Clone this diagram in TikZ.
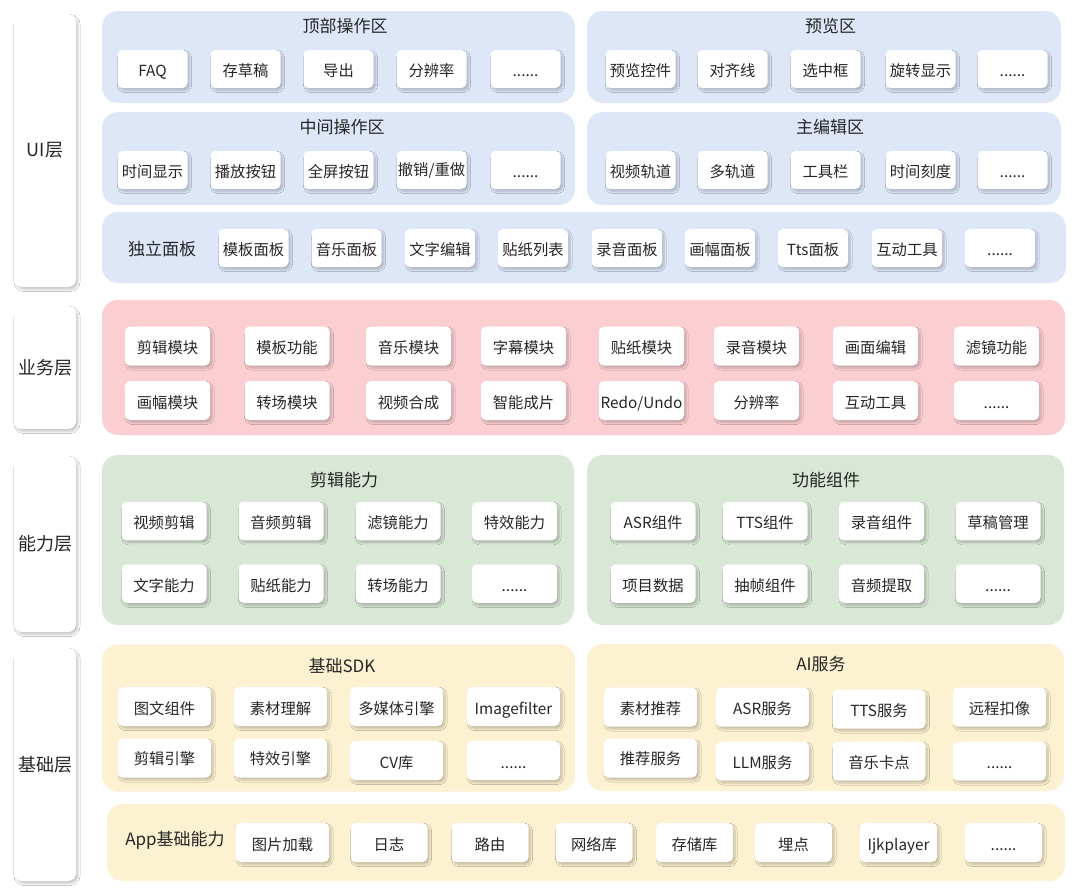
\documentclass[tikz,border=0pt]{standalone}
\usepackage{fontspec}
\setmainfont{Noto Sans CJK SC}
\usetikzlibrary{shadows.blur}
\definecolor{txt}{HTML}{262626}
\definecolor{uiblue}{HTML}{DDE7F8}
\definecolor{bizpink}{HTML}{FBCFD2}
\definecolor{capgreen}{HTML}{D9E8D6}
\definecolor{baseyel}{HTML}{FCF1D0}
\tikzset{
  shad/.style={blur shadow={shadow xshift=2pt, shadow yshift=-2.5pt, shadow blur radius=2pt, shadow blur steps=6, shadow opacity=22}},
  itembox/.style={shad, fill=white, draw=none, rounded corners=5pt, inner sep=0pt, text=txt, font=\fontsize{15.3}{17}\selectfont, text height=15pt, text depth=0pt},
  it/.style={itembox, minimum width=70pt, minimum height=38pt},
  bz/.style={itembox, minimum width=85pt, minimum height=39pt},
  cp/.style={itembox, minimum width=85pt, minimum height=38.5pt},
  sd/.style={itembox, minimum width=93pt, minimum height=39pt},
  ap/.style={itembox, minimum width=77pt, minimum height=39pt},
  layerbox/.style={shad, fill=white, draw=none, rounded corners=8pt, inner sep=0pt, minimum width=62pt, text=txt, font=\fontsize{18}{20}\selectfont},
  panel/.style={draw=none, rounded corners=16pt, inner sep=0pt},
  ptitle/.style={text=txt, inner sep=0pt, font=\fontsize{17}{19}\selectfont},
}
\begin{document}
\begin{tikzpicture}[x=1pt,y=-1pt]
\useasboundingbox[fill=white] (0,0) rectangle (1080,892);

% ---------- layer labels
\node[layerbox, minimum height=273pt] (lui) at (45,150.5) {UI层};
\node[layerbox, minimum height=123pt] (lbiz) at (45,367.5) {业务层};
\node[layerbox, minimum height=176pt] (lcap) at (45,544) {能力层};
\node[layerbox, minimum height=233pt] (lbase) at (45,764.5) {基础层};

% ---------- UI layer panels
\node[panel, fill=uiblue, minimum width=473pt, minimum height=92pt] (ptop) at (338.5,57) {};
\node[panel, fill=uiblue, minimum width=474pt, minimum height=92pt] (pprev) at (824,57) {};
\node[panel, fill=uiblue, minimum width=473pt, minimum height=93pt] (pmid) at (338.5,158.5) {};
\node[panel, fill=uiblue, minimum width=474pt, minimum height=93pt] (pmain) at (824,158.5) {};
\node[panel, fill=uiblue, minimum width=964pt, minimum height=71pt] (pind) at (584,247.5) {};

\node[ptitle] (ttop) at (345,26) {顶部操作区};
\node[ptitle] (tprev) at (830.5,26) {预览区};
\node[ptitle] (tmid) at (342,127) {中间操作区};
\node[ptitle] (tmain) at (830,127) {主编辑区};
\node[ptitle] (tind) at (162,249) {独立面板};

\node[it] (u11) at (152.5,69) {FAQ};
\node[it] (u12) at (245.5,69) {存草稿};
\node[it] (u13) at (338.5,69) {导出};
\node[it] (u14) at (431.5,69) {分辨率};
\node[it] (u15) at (525.5,69) {......};
\node[it] (u16) at (640.5,69) {预览控件};
\node[it] (u17) at (732.5,69) {对齐线};
\node[it] (u18) at (825.5,69) {选中框};
\node[it] (u19) at (920.5,69) {旋转显示};
\node[it] (u110) at (1012.5,69) {......};

\node[it] (u21) at (152.5,170) {时间显示};
\node[it] (u22) at (245.5,170) {播放按钮};
\node[it] (u23) at (338.5,170) {全屏按钮};
\node[it, text height=11pt] (u24) at (431.5,170) {撤销/重做};
\node[it] (u25) at (525.5,170) {......};
\node[it] (u26) at (640.5,170) {视频轨道};
\node[it] (u27) at (732.5,170) {多轨道};
\node[it] (u28) at (825.5,170) {工具栏};
\node[it] (u29) at (920.5,170) {时间刻度};
\node[it] (u210) at (1012.5,170) {......};

\node[it] (u31) at (253.5,248) {模板面板};
\node[it] (u32) at (346.5,248) {音乐面板};
\node[it] (u33) at (440,248) {文字编辑};
\node[it] (u34) at (533,248) {贴纸列表};
\node[it] (u35) at (627,248) {录音面板};
\node[it] (u36) at (720,248) {画幅面板};
\node[it] (u37) at (813,248) {Tts面板};
\node[it] (u38) at (907,248) {互动工具};
\node[it] (u39) at (1000,248) {......};

% ---------- business layer
\node[panel, fill=bizpink, minimum width=963pt, minimum height=135pt] (pbiz) at (583.5,367.5) {};
\node[bz] (b11) at (167.5,346) {剪辑模块};
\node[bz] (b12) at (287,346) {模板功能};
\node[bz] (b13) at (408.5,346) {音乐模块};
\node[bz] (b14) at (523.5,346) {字幕模块};
\node[bz] (b15) at (641.5,346) {贴纸模块};
\node[bz] (b16) at (756.5,346) {录音模块};
\node[bz] (b17) at (875.5,346) {画面编辑};
\node[bz] (b18) at (996.5,346) {滤镜功能};
\node[bz] (b21) at (167.5,400.5) {画幅模块};
\node[bz] (b22) at (287,400.5) {转场模块};
\node[bz] (b23) at (408.5,400.5) {视频合成};
\node[bz] (b24) at (523.5,400.5) {智能成片};
\node[bz] (b25) at (641.5,400.5) {Redo/Undo};
\node[bz] (b26) at (756.5,400.5) {分辨率};
\node[bz] (b27) at (875.5,400.5) {互动工具};
\node[bz] (b28) at (996.5,400.5) {......};

% ---------- capability layer
\node[panel, fill=capgreen, minimum width=472pt, minimum height=170pt] (pedit) at (338,540) {};
\node[panel, fill=capgreen, minimum width=477pt, minimum height=170pt] (pfunc) at (825.5,540) {};
\node[ptitle] (tedit) at (344,480) {剪辑能力};
\node[ptitle] (tfunc) at (826,480) {功能组件};

\node[cp] (c11) at (164,521) {视频剪辑};
\node[cp] (c12) at (281,521) {音频剪辑};
\node[cp] (c13) at (398,521) {滤镜能力};
\node[cp] (c14) at (514.5,521) {特效能力};
\node[cp] (c21) at (164,583.5) {文字能力};
\node[cp] (c22) at (281,583.5) {贴纸能力};
\node[cp] (c23) at (398,583.5) {转场能力};
\node[cp] (c24) at (514.5,583.5) {......};

\node[cp] (f11) at (653,521) {ASR组件};
\node[cp] (f12) at (765,521) {TTS组件};
\node[cp] (f13) at (881.5,521) {录音组件};
\node[cp] (f14) at (998,521) {草稿管理};
\node[cp] (f21) at (653,583.5) {项目数据};
\node[cp] (f22) at (765,583.5) {抽帧组件};
\node[cp] (f23) at (881.5,583.5) {音频提取};
\node[cp] (f24) at (998,583.5) {......};

% ---------- base layer
\node[panel, fill=baseyel, minimum width=473pt, minimum height=147pt] (psdk) at (338.5,718) {};
\node[panel, fill=baseyel, minimum width=477pt, minimum height=147pt] (pai) at (825.5,717.5) {};
\node[panel, fill=baseyel, minimum width=958pt, minimum height=77pt] (papp) at (586,842.5) {};
\node[ptitle] (tsdk) at (342,666) {基础SDK};
\node[ptitle] (tai) at (821,664) {AI服务};
\node[ptitle] (tapp) at (175,840) {App基础能力};

\node[sd] (s11) at (164.5,706.5) {图文组件};
\node[sd] (s12) at (280.5,706.5) {素材理解};
\node[sd] (s13) at (396.5,706.5) {多媒体引擎};
\node[sd] (s14) at (513.5,706.5) {Imagefilter};
\node[sd, text height=12pt] (s21) at (164.5,758) {剪辑引擎};
\node[sd, text height=12pt] (s22) at (280.5,758) {特效引擎};
\node[sd] (s23) at (396.5,760.5) {CV库};
\node[sd] (s24) at (513.5,760.5) {......};

\node[sd] (a11) at (650.5,707) {素材推荐};
\node[sd] (a12) at (762.5,707) {ASR服务};
\node[sd] (a13) at (879,709) {TTS服务};
\node[sd] (a14) at (999.5,707) {远程扣像};
\node[sd, text height=12pt] (a21) at (650.5,758) {推荐服务};
\node[sd] (a22) at (762.5,761) {LLM服务};
\node[sd] (a23) at (879,761) {音乐卡点};
\node[sd] (a24) at (999.5,761) {......};

\node[sd] (p1) at (282.5,842.5) {图片加载};
\node[ap] (p2) at (389,842.5) {日志};
\node[ap] (p3) at (490,842.5) {路由};
\node[ap] (p4) at (594,842.5) {网络库};
\node[ap] (p5) at (694.5,842.5) {存储库};
\node[ap] (p6) at (793.5,842.5) {埋点};
\node[ap] (p7) at (898.5,842.5) {Ijkplayer};
\node[ap] (p8) at (1003.5,842.5) {......};
\end{tikzpicture}
\end{document}
